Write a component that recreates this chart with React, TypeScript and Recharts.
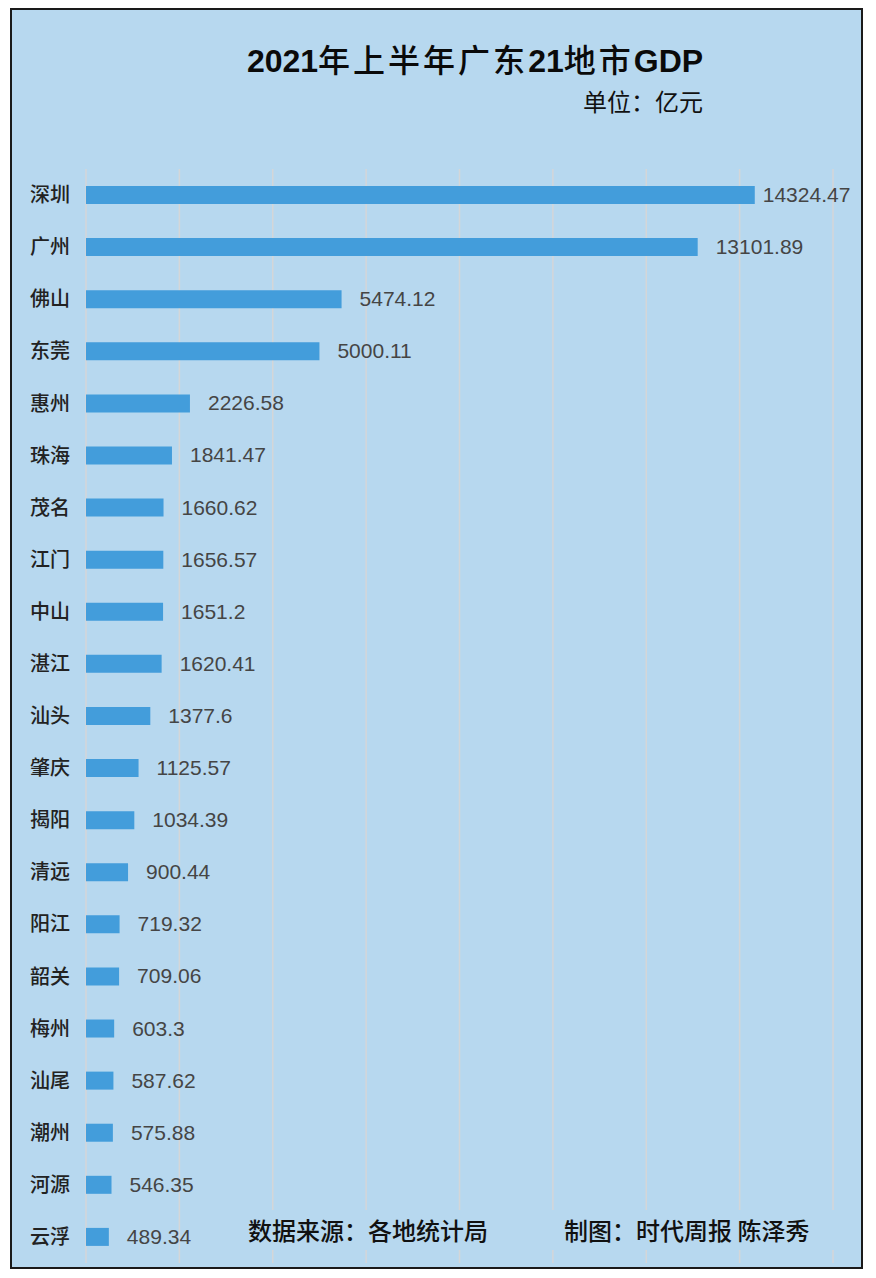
import React from 'react';
import { BarChart, Bar, XAxis, YAxis, CartesianGrid, LabelList } from 'recharts';

const cities = ['深圳', '广州', '佛山', '东莞', '惠州', '珠海', '茂名', '江门', '中山', '湛江', '汕头', '肇庆', '揭阳', '清远', '阳江', '韶关', '梅州', '汕尾', '潮州', '河源', '云浮'];
const gdp = [14324.47, 13101.89, 5474.12, 5000.11, 2226.58, 1841.47, 1660.62, 1656.57, 1651.2, 1620.41, 1377.6, 1125.57, 1034.39, 900.44, 719.32, 709.06, 603.3, 587.62, 575.88, 546.35, 489.34];
const xTicks = [0, 2000, 4000, 6000, 8000, 10000, 12000, 14000, 16000];

const BG = '#B7D8EF';
const BAR = '#439DDB';
const CJK = "'Noto Sans CJK SC', sans-serif";
const LATIN = "'Liberation Sans', Arial, 'Noto Sans CJK SC', sans-serif";

const rows = cities.map((name, i) => ({ name, value: gdp[i] }));

function ValueLabel(props: any) {
  const { x, y, width, height, value, index } = props;
  const off = index === 0 ? 8 : 18;
  return (
    <text x={x + width + off} y={y + height / 2} dy={7} fontSize={21}
      fontFamily={LATIN} fill="#454545">
      {String(value)}
    </text>
  );
}

export default function App() {
  return (
    <div style={{ position: 'absolute', left: 0, top: 0, width: 876, height: 1278, background: '#fff' }}>
      <div style={{
        position: 'absolute', left: 10, top: 8, width: 853, height: 1261,
        border: '2px solid #1a1a1a', background: BG, boxSizing: 'border-box',
      }} />
      <div style={{ position: 'absolute', left: 0, top: 0 }}>
        <BarChart width={876} height={1278} data={rows} layout="vertical"
          margin={{ top: 169, right: 43, bottom: 15, left: 10 }} barCategoryGap={0}>
          <CartesianGrid horizontal={false} stroke="#D4D6D8" strokeWidth={1.5} />
          <XAxis type="number" hide domain={[0, 16000]} ticks={xTicks} />
          <YAxis type="category" dataKey="name" width={76} axisLine={false} tickLine={false}
            tickSize={0} tickMargin={16}
            tick={{ fontSize: 20, fill: '#222', fontFamily: CJK, fontWeight: 500 }} />
          <Bar dataKey="value" fill={BAR} barSize={18} isAnimationActive={false}>
            <LabelList dataKey="value" content={ValueLabel} />
          </Bar>
        </BarChart>
      </div>
      <div style={{
        position: 'absolute', left: 0, width: 950, top: 36, textAlign: 'center',
        fontSize: 32, lineHeight: '44px', color: '#0a0a0a', whiteSpace: 'nowrap',
      }}>
        <span style={{ fontFamily: LATIN, fontWeight: 700 }}>2021</span>
        <span style={{ fontFamily: CJK, fontWeight: 500, letterSpacing: 3 }}>年上半年广东</span>
        <span style={{ fontFamily: LATIN, fontWeight: 700 }}>21</span>
        <span style={{ fontFamily: CJK, fontWeight: 500, letterSpacing: 3 }}>地市</span>
        <span style={{ fontFamily: LATIN, fontWeight: 700 }}>GDP</span>
      </div>
      <div style={{
        position: 'absolute', left: 583, top: 86, fontSize: 24, lineHeight: '30px',
        fontFamily: CJK, color: '#111', whiteSpace: 'nowrap',
      }}>
        单位：亿元
      </div>
      <div style={{
        position: 'absolute', left: 238, top: 1210, width: 600, height: 40, background: BG,
        fontFamily: CJK, fontSize: 24, lineHeight: '40px', color: '#111', whiteSpace: 'nowrap',
        fontWeight: 500,
      }}>
        <span style={{ position: 'absolute', left: 10 }}>数据来源：各地统计局</span>
        <span style={{ position: 'absolute', left: 326 }}>制图：时代周报 陈泽秀</span>
      </div>
    </div>
  );
}
